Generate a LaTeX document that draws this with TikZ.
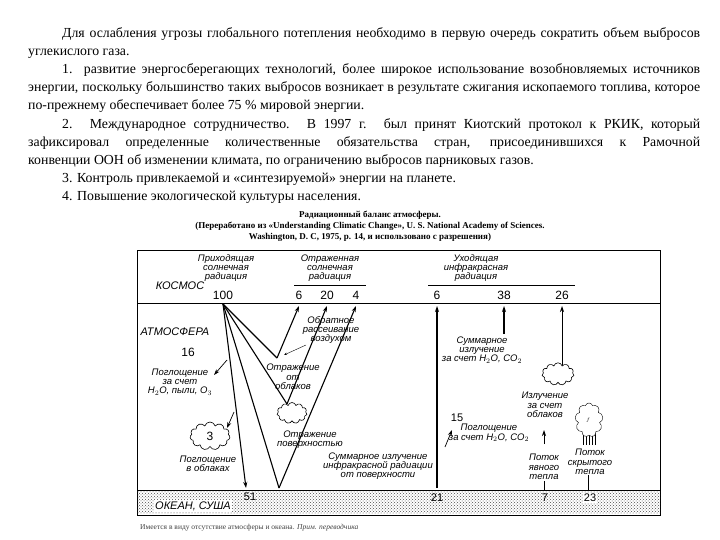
\documentclass[tikz,border=0pt]{standalone}
\usepackage{fontspec}
\setmainfont{Liberation Serif}
\setsansfont{Liberation Sans}
\usetikzlibrary{patterns,shapes.symbols,arrows.meta}
\begin{document}
\begin{tikzpicture}[x=1pt,y=-1pt,
  lbl/.style={font=\sffamily\itshape\fontsize{9.5}{9.3}\selectfont,align=center,inner sep=1pt},
  num/.style={font=\sffamily\fontsize{12}{12}\selectfont,inner sep=1pt},
  ray/.style={line width=1.1pt},
  arr/.style={line width=1.1pt,-{Stealth[length=6pt,width=4pt]}},
  cloudy/.style={cloud,cloud puffs=11,draw,line width=0.6pt,fill=white,minimum width=#1,minimum height=0.7*#1,aspect=1.5}]
\useasboundingbox (0,0) rectangle (720,540);
% paragraph
\node[anchor=north west,inner sep=0pt] (par) at (28,27) {\parbox{672pt}{\fontsize{13.8}{18.2}\selectfont\setlength{\parindent}{34pt}\hyphenpenalty=10000\emergencystretch=20pt
Для ослабления угрозы глобального потепления необходимо в первую очередь сократить объем выбросов углекислого газа.\par
1. развитие энергосберегающих технологий, более широкое использование возобновляемых источников энергии, поскольку большинство таких выбросов возникает в результате сжигания ископаемого топлива, которое по-прежнему обеспечивает более 75 \% мировой энергии.\par
2. Международное сотрудничество. В 1997 г. был принят Киотский протокол к РКИК, который\linebreak зафиксировал определенные количественные обязательства стран, присоединившихся к Рамочной\linebreak конвенции ООН об изменении климата, по ограничению выбросов парниковых газов.\par
3. Контроль привлекаемой и «синтезируемой» энергии на планете.\par
4. Повышение экологической культуры населения.}};
% caption
\node[font=\bfseries\fontsize{9}{9}\selectfont,align=center,inner sep=0pt] (cap) at (370,226) {Радиационный баланс атмосферы.\\[2pt](Переработано из «Understanding Climatic Change», U. S. National Academy of Sciences.\\[2pt]Washington, D. C, 1975, p. 14, и использовано с разрешения)};
% frame
\draw[line width=1pt] (137,250) rectangle (660,515);
\draw[line width=1pt] (137,303) -- (660,303);
\fill[pattern=crosshatch dots,pattern color=black!70] (137,490) rectangle (660,513);
\draw[line width=0.8pt] (137,490) -- (660,490);
\node[lbl,fill=white,font=\sffamily\itshape\fontsize{11}{11}\selectfont] (ocean) at (193,506) {ОКЕАН, СУША};
\node[lbl,font=\sffamily\itshape\fontsize{11}{11}\selectfont] (kosmos) at (180,286) {КОСМОС};
\node[lbl,font=\sffamily\itshape\fontsize{11}{11}\selectfont] (atm) at (175,332) {АТМОСФЕРА};
\node[num] (n16) at (188,352) {16};
% headers
\node[lbl] (hin) at (226,268) {Приходящая\\солнечная\\радиация};
\node[num] (n100) at (223,295) {100};
\node[lbl] (hrefl) at (330,268) {Отраженная\\солнечная\\радиация};
\draw (294,285) -- (366,285);
\node[num] (n6a) at (299,295) {6};
\node[num] (n20) at (327,295) {20};
\node[num] (n4) at (356,295) {4};
\node[lbl] (hout) at (476,268) {Уходящая\\инфракрасная\\радиация};
\draw (428,285) -- (575,285);
\node[num] (n6b) at (437,295) {6};
\node[num] (n38) at (504,295) {38};
\node[num] (n26) at (562,295) {26};
% solar rays
\coordinate (o) at (223,304);
\coordinate (bs) at (277,358);
\coordinate (cr) at (287,404);
\coordinate (sr) at (279,488);
\coordinate (s51) at (246,488);
\draw[ray] (o) -- (bs); \draw[arr] (bs) -- (299,306);
\draw[ray] (o) -- (cr); \draw[arr] (cr) -- (327,306);
\draw[ray] (o) -- (sr); \draw[arr] (sr) -- (356,306);
\draw[arr] (o) -- (s51);
\node[num,font=\sffamily\fontsize{11}{11}\selectfont] (n51) at (250,497) {51};
\node[lbl] (bsl) at (331,330) {Обратное\\рассеивание\\воздухом};
\draw[-{Stealth[length=3pt]}] (306,345) -- (284,355);
\draw[arr,line width=0.7pt] (227,360) -- (214,375);
\node[lbl] (abs1) at (180,382) {Поглощение\\за счет\\H$_2$O, пыли, O$_3$};
\node[lbl] (refc) at (293,377) {Отражение\\от\\облаков};
\node[cloudy=30pt] (c1) at (292,413) {};
\node[lbl] (refs) at (310,440) {Отражение\\поверхностью};
\node[cloudy=40pt] (c3) at (210,436) {\sffamily\fontsize{12}{12}\selectfont 3};
\draw[arr,line width=0.7pt] (234,412) -- (227,428);
\node[lbl] (absc) at (208,464) {Поглощение\\в облаках};
% IR
\draw[arr] (437,488) -- (437,306);
\node[num,font=\sffamily\fontsize{11}{11}\selectfont] (n21) at (437,498) {21};
\node[lbl,fill=white] (irs) at (378,466) {Суммарное излучение\\инфракрасной радиации\\от поверхности};
\draw[arr] (504,334) -- (504,306);
\node[lbl] (irg) at (482,350) {Суммарное\\излучение\\за счет H$_2$O, CO$_2$};
\draw[arr,line width=0.8pt] (562,365) -- (562,306);
\node[cloudy=32pt] (c2) at (558,374) {};
\node[lbl] (irc) at (545,405) {Излучение\\за счет\\облаков};
\draw[arr,line width=0.7pt] (445,447) -- (452,430);
\node[num,font=\sffamily\fontsize{11}{11}\selectfont] (n15) at (457,418) {15};
\node[lbl] (abs2) at (489,433) {Поглощение\\за счет H$_2$O, CO$_2$};
\draw[arr,line width=0.8pt] (544,444) -- (544,430);
\node[lbl] (sens) at (544,467) {Поток\\явного\\тепла};
\draw (544,481) -- (544,490);
\node[num,font=\sffamily\fontsize{11}{11}\selectfont] (n7) at (545,498) {7};
\node[lbl] (lat) at (590,462) {Поток\\скрытого\\тепла};
\draw (588,475) -- (588,490);
\node[num,font=\sffamily\fontsize{11}{11}\selectfont,fill=white] (n23) at (590,498) {23};
% tree
\foreach \dx in {-6,-3,0,3,6} \draw[line width=1pt] (589+\dx,430) -- (589+\dx,445);
\node[cloud,cloud puffs=9,draw,fill=white,minimum width=28pt,minimum height=34pt,aspect=0.8] (tree) at (589,420) {};
\node[font=\tiny\itshape] at (588,420) {$f$};
% footnote
\node[anchor=west,font=\fontsize{7.5}{7.5}\selectfont,text=black!75,inner sep=0pt] (fn) at (140,528) {Имеется в виду отсутствие атмосферы и океана. \textit{Прим. переводчика}};
\end{tikzpicture}
\end{document}
